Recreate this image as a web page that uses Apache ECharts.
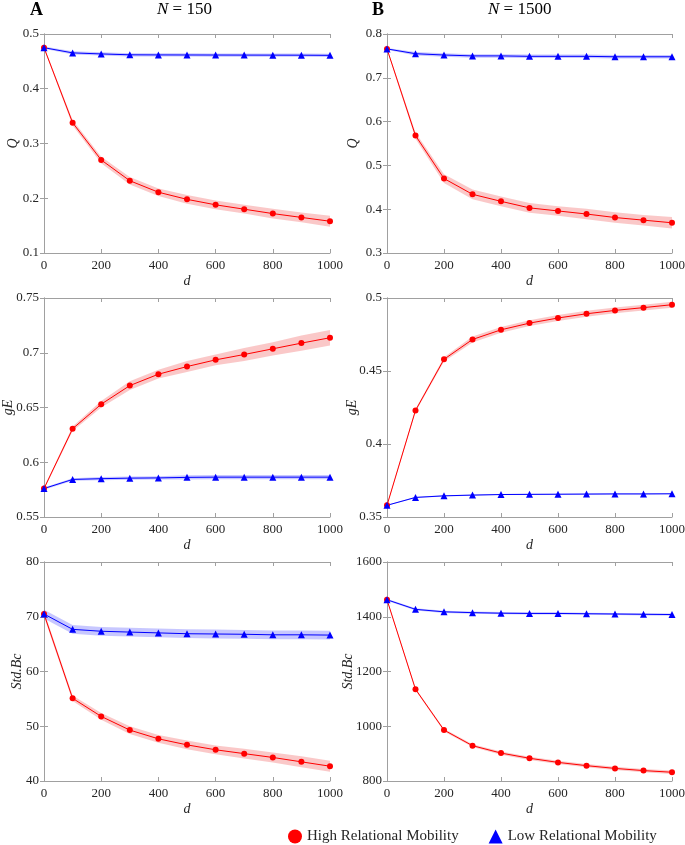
<!DOCTYPE html>
<html><head><meta charset="utf-8">
<script src="https://cdn.jsdelivr.net/npm/echarts@6/dist/echarts.min.js"></script>
<style>html,body{margin:0;padding:0;background:#fff}#c{width:685px;height:845px}</style>
</head><body><div id="c"></div>
<script>
const d = [0,100,200,300,400,500,600,700,800,900,1000];

// Panel A (N = 150)
const qHigh150 = [0.475,0.338,0.270,0.232,0.211,0.198,0.188,0.180,0.172,0.165,0.158];
const qHigh150Err = [0.002,0.005,0.006,0.007,0.007,0.008,0.008,0.008,0.009,0.009,0.010];
const qLow150 = [0.475,0.4655,0.4636,0.462,0.4618,0.4617,0.4616,0.4615,0.4614,0.4613,0.461];
const qLow150Err = [0.002,0.003,0.003,0.003,0.003,0.003,0.003,0.003,0.003,0.003,0.003];

const geHigh150 = [0.576,0.6306,0.653,0.670,0.6804,0.6874,0.6935,0.6984,0.7036,0.7088,0.7137];
const geHigh150Err = [0.001,0.002,0.003,0.004,0.004,0.005,0.005,0.006,0.006,0.007,0.007];
const geLow150 = [0.576,0.5843,0.585,0.5855,0.5857,0.5862,0.5864,0.5864,0.5864,0.5864,0.5864];
const geLow150Err = [0.001,0.0012,0.0015,0.0015,0.0015,0.002,0.002,0.002,0.002,0.002,0.002];

const sbHigh150 = [70.5,55.1,51.8,49.3,47.7,46.6,45.7,45.0,44.3,43.5,42.7];
const sbHigh150Err = [0.5,0.5,0.6,0.7,0.7,0.8,0.8,0.9,0.9,1.0,1.0];
const sbLow150 = [70.5,67.7,67.35,67.2,67.05,66.9,66.85,66.8,66.7,66.7,66.65];
const sbLow150Err = [0.8,0.8,0.8,0.8,0.8,0.8,0.8,0.8,0.8,0.8,0.8];

// Panel B (N = 1500)
const qHigh1500 = [0.766,0.568,0.470,0.434,0.418,0.403,0.396,0.389,0.381,0.375,0.369];
const qHigh1500Err = [0.002,0.007,0.010,0.011,0.011,0.011,0.011,0.012,0.012,0.012,0.013];
const qLow1500 = [0.766,0.755,0.752,0.750,0.750,0.749,0.749,0.749,0.748,0.748,0.748];
const qLow1500Err = [0.002,0.004,0.004,0.004,0.004,0.004,0.004,0.004,0.004,0.004,0.004];

const geHigh1500 = [0.358,0.423,0.458,0.4716,0.4782,0.4828,0.4863,0.4892,0.4915,0.4934,0.4954];
const geHigh1500Err = [0.0005,0.001,0.0015,0.002,0.002,0.002,0.002,0.002,0.002,0.002,0.002];
const geLow1500 = [0.358,0.3634,0.3645,0.365,0.3654,0.3655,0.3656,0.3657,0.3658,0.3658,0.3659];
const geLow1500Err = [0.0003,0.0004,0.0004,0.0004,0.0004,0.0004,0.0004,0.0004,0.0004,0.0004,0.0004];

const sbHigh1500 = [1462,1135,986,929,902,883,868,856,846,838,832];
const sbHigh1500Err = [3,4,5,5,6,6,6,6,6,6,6];
const sbLow1500 = [1462,1427,1418,1415,1413,1412,1412,1411,1410,1409,1408];
const sbLow1500Err = [4,4,4,4,4,4,4,4,4,4,4];

const panels = [
  {left:44, top:34, width:286, name:'Q', gap:24, min:0.1, max:0.5, interval:0.1, high:qHigh150, highErr:qHigh150Err, low:qLow150, lowErr:qLow150Err},
  {left:387, top:34, width:285, name:'Q', gap:27, min:0.3, max:0.8, interval:0.1, high:qHigh1500, highErr:qHigh1500Err, low:qLow1500, lowErr:qLow1500Err},
  {left:44, top:298, width:286, name:'gE', gap:29, min:0.55, max:0.75, interval:0.05, high:geHigh150, highErr:geHigh150Err, low:geLow150, lowErr:geLow150Err},
  {left:387, top:298, width:285, name:'gE', gap:28, min:0.35, max:0.5, interval:0.05, high:geHigh1500, highErr:geHigh1500Err, low:geLow1500, lowErr:geLow1500Err},
  {left:44, top:562, width:286, name:'Std.Bc', gap:20, min:40, max:80, interval:10, high:sbHigh150, highErr:sbHigh150Err, low:sbLow150, lowErr:sbLow150Err},
  {left:387, top:562, width:285, name:'Std.Bc', gap:32, min:800, max:1600, interval:200, high:sbHigh1500, highErr:sbHigh1500Err, low:sbLow1500, lowErr:sbLow1500Err}
];

const FONT = 'Liberation Serif';
const axisColor = '#a0a0a0';
const textColor = '#262626';
const grids = [], xAxes = [], yAxes = [], series = [];
const fmt = v => String(+(+v).toFixed(4));

panels.forEach((p, i) => {
  grids.push({left:p.left, top:p.top, width:p.width, height:219, containLabel:false, outerBoundsMode:'none'});
  const xi = xAxes.length, yi = yAxes.length;
  xAxes.push({type:'value', gridIndex:i, min:0, max:1000, interval:200, position:'bottom',
    name:'d', nameLocation:'middle', nameGap:21, nameMoveOverlap:false,
    nameTextStyle:{fontFamily:FONT, fontStyle:'italic', fontSize:14, color:textColor},
    axisLine:{show:true, lineStyle:{color:axisColor, width:1}},
    axisTick:{show:true, inside:true, length:4, lineStyle:{color:axisColor}},
    axisLabel:{fontFamily:FONT, fontSize:13, color:textColor, margin:6, formatter:fmt},
    splitLine:{show:false}});
  xAxes.push({type:'value', gridIndex:i, min:0, max:1000, interval:200, position:'top',
    axisLine:{show:true, lineStyle:{color:axisColor, width:1}},
    axisTick:{show:true, inside:true, length:4, lineStyle:{color:axisColor}},
    axisLabel:{show:false}, splitLine:{show:false}});
  yAxes.push({type:'value', gridIndex:i, min:p.min, max:p.max, interval:p.interval, position:'left',
    name:p.name, nameLocation:'middle', nameGap:p.gap, nameRotate:90, nameMoveOverlap:false,
    nameTextStyle:{fontFamily:FONT, fontStyle:'italic', fontSize:14, color:textColor},
    axisLine:{show:true, lineStyle:{color:axisColor, width:1}},
    axisTick:{show:true, inside:true, length:4, lineStyle:{color:axisColor}},
    axisLabel:{fontFamily:FONT, fontSize:13, color:textColor, margin:5, formatter:fmt},
    splitLine:{show:false}});
  yAxes.push({type:'value', gridIndex:i, min:p.min, max:p.max, interval:p.interval, position:'right',
    axisLine:{show:true, lineStyle:{color:axisColor, width:1}},
    axisTick:{show:true, inside:true, length:4, lineStyle:{color:axisColor}},
    axisLabel:{show:false}, splitLine:{show:false}});

  const groups = [
    {vals:p.high, err:p.highErr, name:'High Relational Mobility', color:'#ff0000', band:'rgba(242,110,110,0.38)', symbol:'circle', size:6},
    {vals:p.low, err:p.lowErr, name:'Low Relational Mobility', color:'#0000ff', band:'rgba(70,70,255,0.30)', symbol:'triangle', size:7}
  ];
  groups.forEach(g => {
    const lo = d.map((x, j) => g.vals[j] - g.err[j]);
    const hi = d.map((x, j) => g.vals[j] + g.err[j]);
    series.push({type:'custom', xAxisIndex:xi, yAxisIndex:yi, silent:true, z:1,
      data:d.map((x, j) => [x, lo[j], hi[j]]),
      encode:{x:0, y:[1,2]},
      renderItem:(params, api) => {
        if (params.dataIndex !== 0) return null;
        const pts = [];
        for (let j = 0; j < d.length; j++) pts.push(api.coord([d[j], hi[j]]));
        for (let j = d.length - 1; j >= 0; j--) pts.push(api.coord([d[j], lo[j]]));
        return {type:'polygon', shape:{points:pts}, style:{fill:g.band}};
      }});
  });
  groups.forEach(g => {
    series.push({type:'line', name:g.name, xAxisIndex:xi, yAxisIndex:yi,
      data:d.map((x, j) => [x, g.vals[j]]), symbol:g.symbol, symbolSize:g.size, showSymbol:true,
      lineStyle:{color:g.color, width:1}, itemStyle:{color:g.color}, z:3});
  });
});

const chart = echarts.init(document.getElementById('c'), null, {renderer:'canvas'});
chart.setOption({
  animation:false,
  backgroundColor:'#fff',
  grid:grids, xAxis:xAxes, yAxis:yAxes, series:series,
  legend:{left:283, top:824, itemGap:30, itemWidth:14, itemHeight:14,
    textStyle:{fontFamily:FONT, fontSize:15, color:textColor},
    data:[{name:'High Relational Mobility', icon:'circle'},{name:'Low Relational Mobility', icon:'triangle'}]},
  graphic:[
    {type:'text', left:30, top:1, style:{text:'A', fontFamily:FONT, fontWeight:'bold', fontSize:18, fill:'#000'}},
    {type:'text', left:372, top:1, style:{text:'B', fontFamily:FONT, fontWeight:'bold', fontSize:18, fill:'#000'}},
    {type:'text', left:157, top:1, style:{text:'{i|N} = 150', fontFamily:FONT, fontSize:17, fill:'#000',
      rich:{i:{fontFamily:FONT, fontStyle:'italic', fontSize:17, fill:'#000'}}}},
    {type:'text', left:488, top:1, style:{text:'{i|N} = 1500', fontFamily:FONT, fontSize:17, fill:'#000',
      rich:{i:{fontFamily:FONT, fontStyle:'italic', fontSize:17, fill:'#000'}}}}
  ]
});
</script></body></html>
